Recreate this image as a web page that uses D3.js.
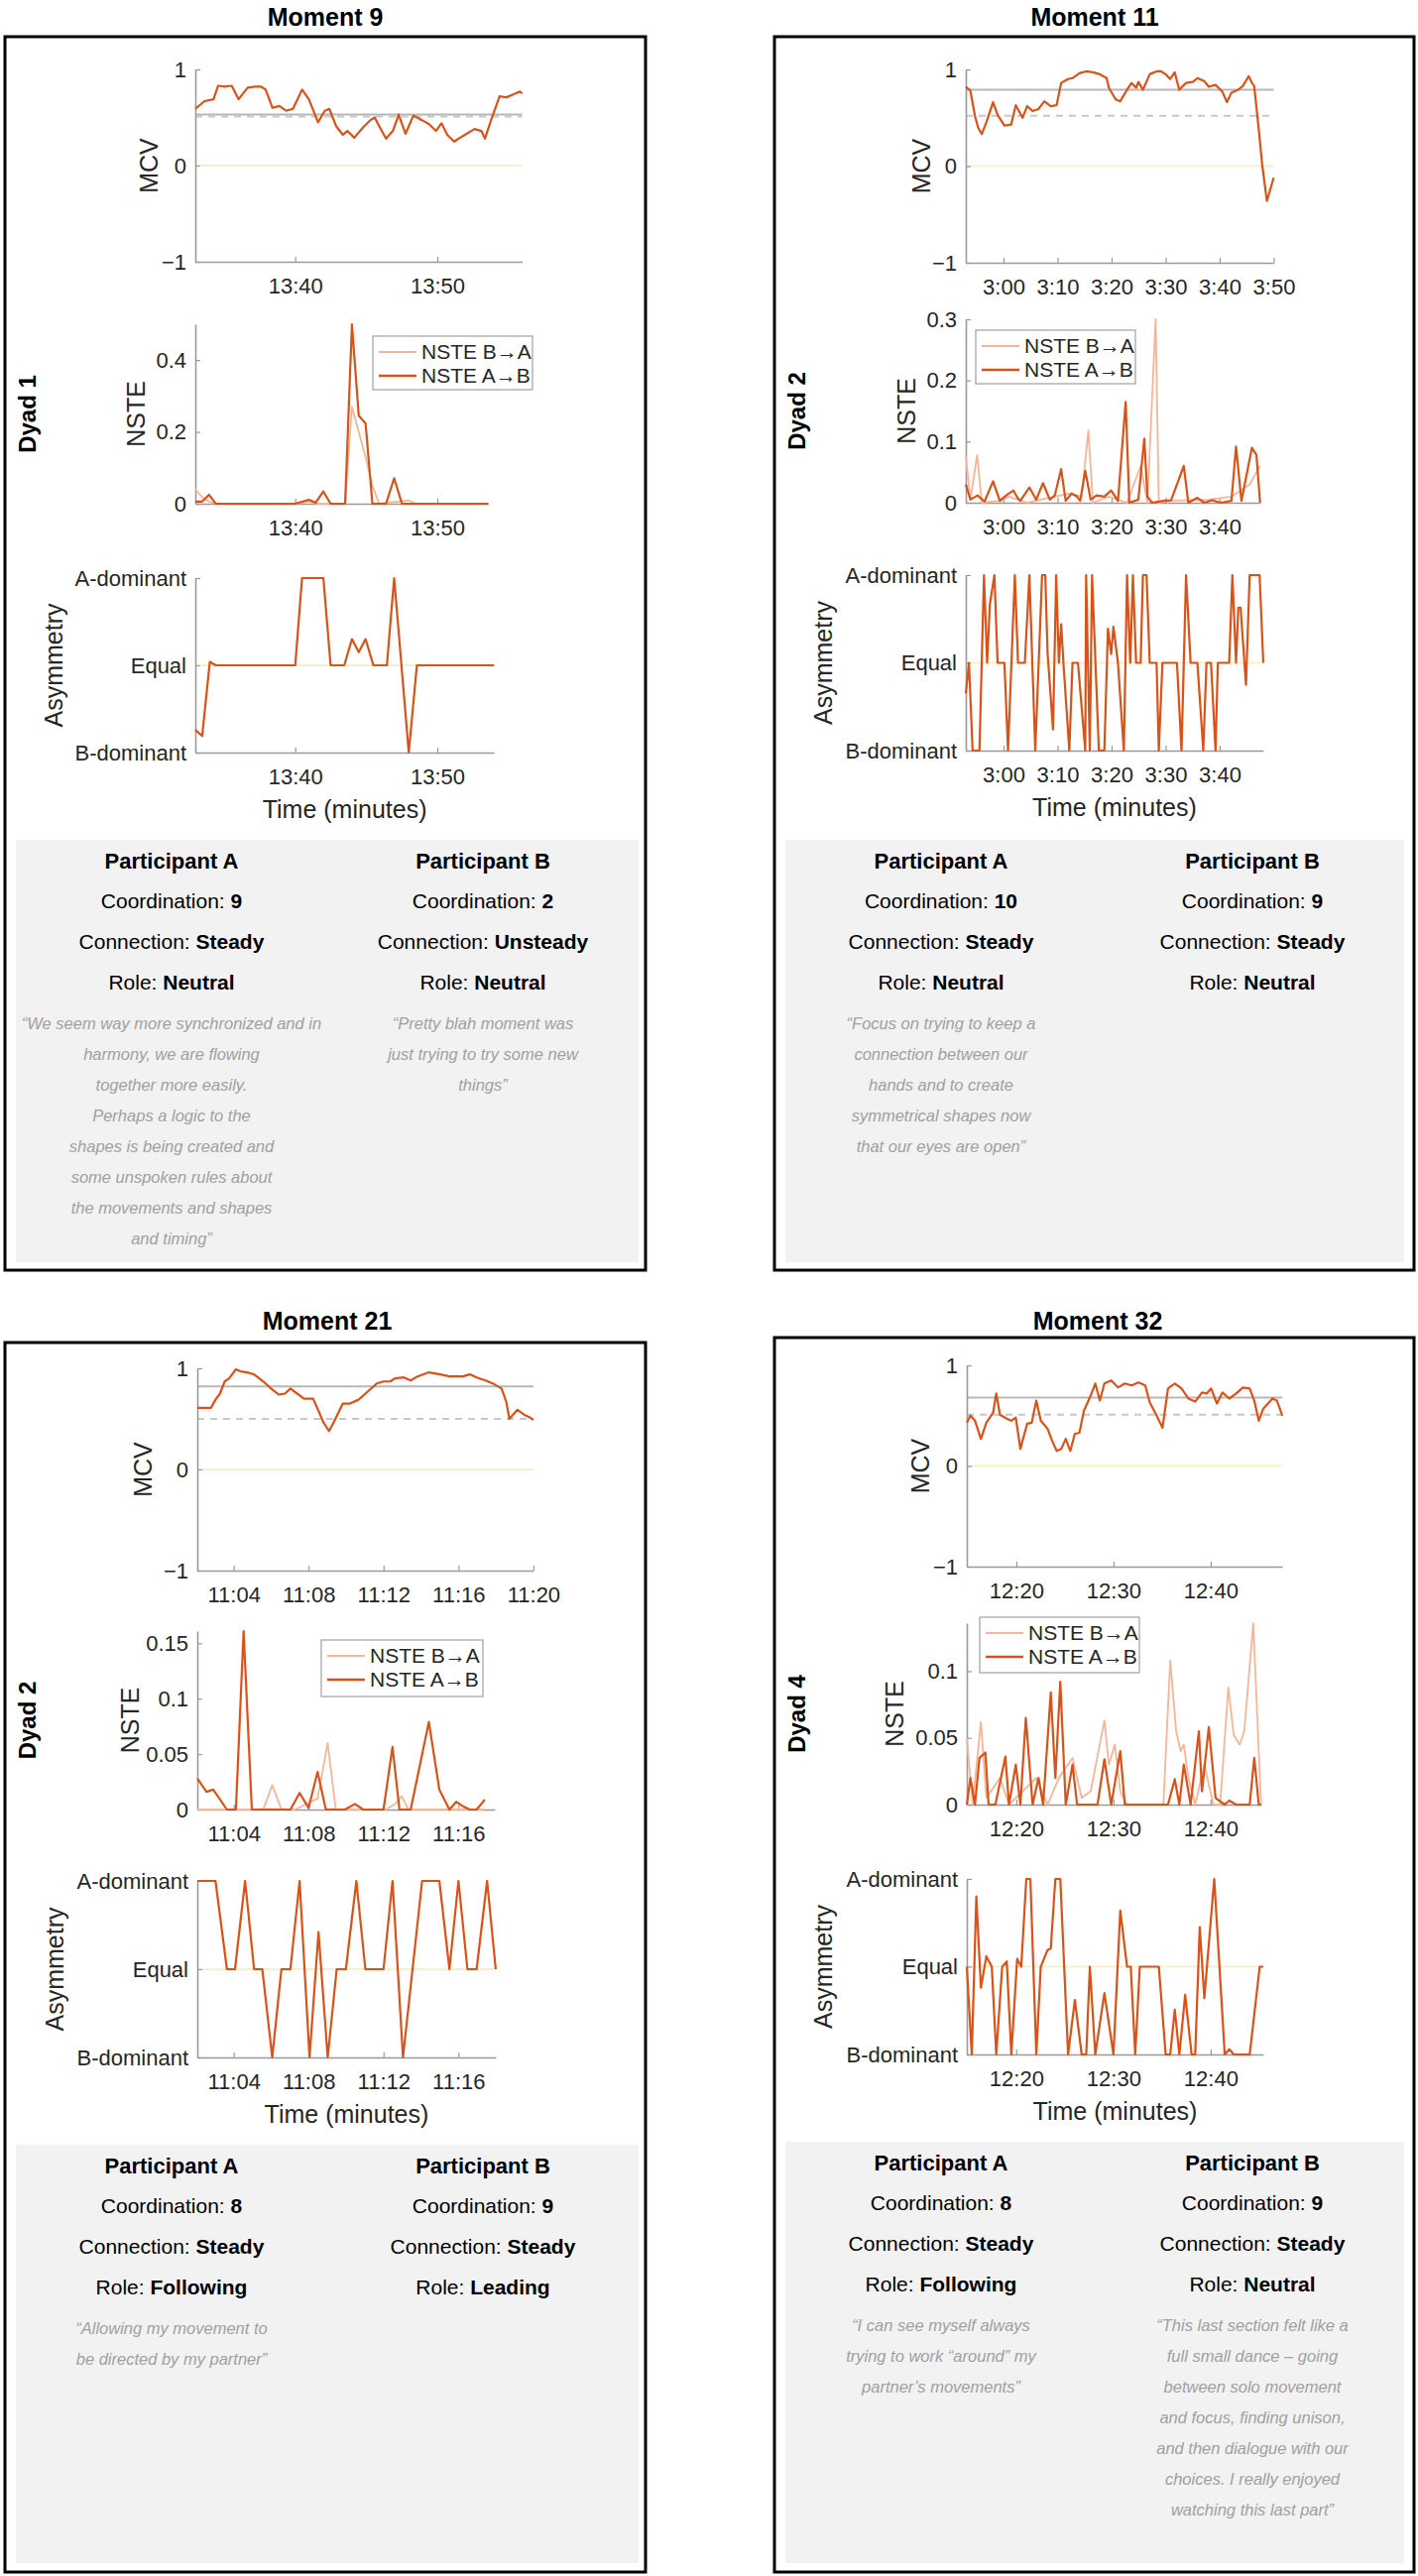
<!DOCTYPE html>
<html>
<head>
<meta charset="utf-8">
<script src="https://cdn.jsdelivr.net/npm/d3@7"></script>
<style>
  body { margin: 0; background: #fff; }
  svg { display: block; }
</style>
</head>
<body>
<script>
const W = 1430, H = 2598;
const FONT = "'Liberation Sans', Arial, sans-serif";
const DARK = "#d95319", LIGHT = "#f4b698", AX = "#9a9a9a", TXT = "#262626";

// ---- data: titles and labels ----
const moments = ["Moment 9", "Moment 11", "Moment 21", "Moment 32"];
const dyads = ["Dyad 1", "Dyad 2", "Dyad 2", "Dyad 4"];
const asymLabels = ["B-dominant", "Equal", "A-dominant"];

// MCV series, [time in minutes, value]
const mcv9 = [[812.97,0.59],[813.61,0.67],[814.25,0.69],[814.57,0.83],[815.05,0.82],[815.53,0.83],[816.01,0.69],[816.65,0.81],[817.12,0.82],[817.6,0.82],[817.92,0.79],[818.4,0.6],[818.88,0.62],[819.36,0.57],[819.84,0.59],[820.48,0.79],[820.96,0.69],[821.6,0.45],[822.08,0.57],[822.4,0.59],[822.88,0.41],[823.35,0.32],[823.67,0.36],[824.15,0.29],[824.79,0.4],[825.27,0.47],[825.59,0.5],[825.91,0.41],[826.39,0.28],[826.87,0.36],[827.28,0.53],[827.76,0.33],[828.31,0.52],[828.95,0.47],[829.42,0.43],[829.9,0.36],[830.29,0.44],[830.7,0.32],[831.18,0.25],[831.82,0.31],[832.62,0.38],[833.1,0.36],[833.35,0.28],[833.8,0.48],[834.38,0.72],[834.86,0.71],[835.34,0.74],[835.81,0.77],[835.97,0.75]];
const mcv11 = [[173.03,0.82],[173.87,0.78],[174.71,0.52],[175.29,0.4],[175.97,0.33],[176.81,0.45],[178.07,0.66],[178.91,0.53],[180.17,0.42],[181.43,0.43],[182.27,0.63],[183.53,0.5],[184.37,0.62],[185.38,0.57],[186.47,0.59],[187.56,0.67],[188.74,0.62],[189.83,0.63],[190.67,0.86],[191.93,0.9],[192.77,0.91],[194.03,0.96],[195.29,0.98],[196.55,0.97],[197.82,0.95],[199.08,0.91],[199.5,0.81],[200.76,0.69],[201.6,0.67],[202.86,0.79],[203.7,0.86],[204.54,0.81],[204.96,0.87],[205.8,0.79],[207.06,0.95],[208.32,0.98],[209.16,0.98],[210,0.95],[210.84,0.9],[211.68,0.97],[212.52,0.79],[213.78,0.86],[215.04,0.87],[215.88,0.91],[217.14,0.88],[217.98,0.82],[219.24,0.84],[220.5,0.77],[221.34,0.66],[222.18,0.76],[223.45,0.79],[224.29,0.83],[225.38,0.93],[225.97,0.86],[226.39,0.83],[227.23,0.38],[227.9,0],[228.74,-0.36],[230,-0.12]];
const mcv21 = [[662.06,0.61],[662.79,0.61],[663.03,0.69],[663.27,0.75],[663.52,0.87],[663.76,0.9],[664.12,0.99],[664.36,0.97],[664.73,0.96],[665.09,0.94],[665.58,0.87],[666.06,0.79],[666.42,0.74],[666.74,0.75],[667.03,0.8],[667.39,0.75],[667.76,0.7],[668.24,0.7],[668.48,0.6],[668.78,0.47],[669.09,0.38],[669.33,0.46],[669.82,0.65],[670.18,0.65],[670.67,0.69],[671.15,0.77],[671.64,0.85],[672,0.87],[672.36,0.87],[672.61,0.9],[673.09,0.91],[673.45,0.88],[673.82,0.92],[674.42,0.96],[675.03,0.94],[675.52,0.92],[676.24,0.92],[676.61,0.94],[676.97,0.91],[677.45,0.88],[677.94,0.84],[678.3,0.8],[678.55,0.67],[678.72,0.5],[679.15,0.59],[679.52,0.54],[679.76,0.52],[680,0.49]];
const mcv32 = [[734.91,0.43],[735.28,0.5],[735.75,0.45],[736.36,0.27],[736.92,0.43],[737.62,0.53],[737.94,0.72],[738.32,0.51],[739.02,0.47],[739.49,0.45],[739.95,0.48],[740.42,0.17],[741.12,0.42],[741.59,0.43],[742.06,0.65],[742.52,0.45],[743.22,0.37],[743.69,0.25],[744.16,0.15],[744.63,0.17],[745.09,0.27],[745.56,0.15],[746.03,0.32],[746.5,0.33],[746.96,0.55],[747.66,0.7],[748.13,0.82],[748.6,0.65],[749.07,0.82],[749.77,0.85],[750.47,0.78],[751.17,0.82],[751.87,0.8],[752.57,0.83],[753.27,0.8],[753.74,0.63],[754.44,0.5],[755.05,0.38],[755.61,0.77],[756.31,0.82],[757.01,0.77],[757.71,0.67],[758.41,0.64],[759.11,0.73],[759.58,0.72],[760.05,0.77],[760.65,0.62],[761.21,0.73],[761.92,0.67],[762.62,0.72],[763.32,0.78],[764.02,0.77],[764.49,0.65],[764.95,0.45],[765.42,0.57],[766.36,0.67],[766.82,0.65],[767.38,0.5]];

// MCV reference levels (solid grey, dashed grey)
const refSolid = [0.53, 0.79, 0.82, 0.68];
const refDashed = [0.51, 0.52, 0.5, 0.51];

// NSTE series
const nsteAB9 = [[812.97,0.006],[813.45,0.006],[813.93,0.025],[814.41,0],[820,0],[820.96,0.011],[821.44,0.003],[821.98,0.034],[822.49,0],[823.51,0],[823.99,0.5],[824.47,0.245],[824.95,0.224],[825.43,0],[826.39,0],[826.96,0.071],[827.51,0],[833.58,0]];
const nsteBA9 = [[812.97,0.04],[813.45,0.018],[813.93,0.006],[814.41,0],[820,0],[820.96,0.006],[821.6,0],[823.51,0],[823.99,0.27],[824.95,0.13],[825.43,0.05],[825.91,0],[827.99,0.009],[828.47,0],[833.58,0]];
const nsteAB11 = [[173.03,0.03],[173.87,0.005],[175.2,0.012],[176.5,0.002],[178.07,0.035],[179.33,0.003],[180.5,0.012],[181.85,0.02],[182.6,0.008],[183.11,0.003],[184.79,0.025],[186.05,0.005],[187.31,0.032],[188.57,0.005],[189.5,0.012],[190.67,0.055],[191.51,0.003],[192.6,0.015],[193.61,0.01],[194.2,0.003],[195.13,0.052],[196.13,0.005],[197.2,0.012],[198.66,0.01],[199.92,0.02],[201.18,0.003],[202.61,0.165],[203.28,0],[204.96,0.005],[206.05,0.105],[206.64,0.01],[207.48,0],[209.58,0.003],[211,0.004],[213.36,0.06],[214.2,0],[215.88,0.008],[217.14,0],[218.6,0.004],[220.2,0],[222.18,0.003],[223.03,0.092],[224.03,0.003],[225.97,0.09],[226.81,0.078],[227.48,0]];
const nsteBA11 = [[173.03,0.076],[173.87,0.005],[175.13,0.078],[175.97,0],[179.33,0.003],[181.01,0.01],[184.37,0],[189.41,0.01],[192.35,0.015],[194.45,0.01],[195.71,0.118],[196.55,0],[199.5,0.01],[202.86,0],[205.38,0.06],[206.64,0],[208.15,0.3],[208.74,0],[210.42,0.003],[217.98,0.005],[222.18,0.01],[223.87,0.02],[225.55,0.03],[226.81,0.05],[227.48,0.06]];
const nsteAB21 = [[662.06,0.028],[662.55,0.016],[662.91,0.018],[663.64,0],[664.12,0],[664.53,0.161],[664.97,0],[667.03,0],[667.52,0.015],[668,0.0015],[668.48,0.034],[668.92,0],[669.94,0],[670.47,0.005],[670.91,0],[672,0],[672.48,0.0565],[672.85,0],[673.45,0],[674.42,0.079],[674.98,0.018],[675.52,0],[675.88,0.007],[676.24,0.003],[676.61,0],[676.97,0],[677.41,0.009]];
const nsteBA21 = [[662.06,0],[665.58,0],[666.06,0.022],[666.55,0],[667.27,0],[668.48,0.01],[669.02,0.06],[669.45,0],[672.12,0],[672.61,0.005],[672.97,0.012],[673.33,0],[677.41,0]];
const nsteAB32 = [[734.91,0],[735.28,0.02],[735.75,0],[736.21,0.035],[736.82,0.039],[737.15,0],[737.85,0],[738.88,0.036],[739.25,0],[739.95,0.03],[740.42,0],[740.98,0.065],[741.68,0],[742.29,0.02],[742.76,0],[743.55,0.084],[744.02,0.02],[744.53,0.092],[745.09,0],[745.79,0.03],[746.26,0],[747.66,0],[748.36,0],[749.07,0.034],[749.77,0],[750.7,0.04],[751.17,0],[755.61,0],[756.31,0.019],[756.78,0],[757.24,0.03],[757.94,0],[758.79,0.055],[759.11,0.01],[759.81,0.058],[760.51,0.005],[761.45,0],[761.92,0.003],[762.62,0],[764.02,0],[764.49,0.035],[764.95,0],[765.19,0]];
const nsteBA32 = [[734.91,0.05],[735.51,0],[736.36,0.062],[736.92,0.005],[738.32,0.02],[739.25,0],[740.65,0.01],[742.06,0.02],[743.22,0],[744.39,0.02],[745.79,0.035],[746.73,0.005],[747.66,0.01],[749.07,0.063],[749.53,0.03],[750.14,0.045],[750.7,0.01],[751.4,0],[755.14,0],[755.84,0.108],[756.45,0.055],[756.92,0.04],[757.24,0.045],[757.71,0.02],[758.41,0],[759.35,0.03],[760.28,0],[760.98,0],[761.82,0.088],[762.38,0.052],[762.99,0.045],[763.46,0.055],[764.39,0.136],[764.95,0.04],[765.19,0]];

// Asymmetry series (-1 = B-dominant, 0 = Equal, 1 = A-dominant)
const asym9 = [[812.97,-0.74],[813.45,-0.81],[813.99,0.04],[814.41,0],[820,0],[820.48,1],[821.98,1],[822.49,0],[823.45,0],[823.99,0.3],[824.47,0.15],[824.95,0.3],[825.5,0],[826.45,0],[826.96,1],[827.99,-1],[828.56,0],[833.99,0]];
const asym11 = [[173.03,-0.35],[173.61,0],[174.29,-1],[175.55,-1],[176.39,1],[176.97,0],[177.48,0.67],[178.32,1],[178.91,0],[180.17,0],[180.84,-1],[182.1,1],[182.69,0],[183.95,0],[184.79,1],[185.88,-1],[187.14,1],[187.73,1],[188.15,0.12],[189.16,-0.76],[189.75,1],[190.25,0],[190.67,0.44],[191.09,0],[192.18,-1],[192.77,0],[193.78,0],[195.13,-1],[195.29,1],[195.97,-1],[196.39,1],[197.65,-1],[198.66,-1],[199.33,0.39],[199.92,0.1],[200.34,0.41],[201.18,0],[202.27,-1],[202.86,1],[203.45,0],[203.95,1],[204.54,0],[205.38,0],[205.8,1],[206.47,1],[207.06,0],[208.32,0],[208.74,-1],[209.41,0],[212.1,0],[212.94,-1],[213.78,1],[214.62,0],[215.88,0],[216.97,-1],[217.56,0],[218.4,0],[219.24,-1],[219.66,0],[221.76,0],[222.35,1],[223.03,0],[223.45,0.63],[223.87,0.63],[224.87,-0.25],[225.55,1],[227.39,1],[228.07,0]];
const asym21 = [[662.06,1],[663.03,1],[663.64,0],[664.07,0],[664.61,1],[665.09,0],[665.53,0],[666.06,-1],[666.55,0],[667.03,0],[667.52,1],[668.05,-1],[668.53,0.42],[669.02,-1],[669.5,0],[669.99,0],[670.55,1],[671.03,0],[672,0],[672.48,1],[673.04,-1],[674.06,1],[674.98,1],[675.52,0],[676,1],[676.48,0],[676.97,0],[677.53,1],[677.99,0]];
const asym32 = [[734.91,0],[735.42,-1],[735.89,0.8],[736.36,-0.24],[736.92,0.12],[737.48,0],[737.94,-1],[738.55,0],[739.02,0.06],[739.49,-1],[740.09,0.09],[740.51,0],[741.03,1],[741.45,1],[742.06,-1],[742.52,0],[743.22,0.19],[743.55,0.21],[744.02,1],[744.53,1],[745.33,-1],[746.03,-0.38],[746.73,-1],[747.2,-1],[747.57,0],[748.13,-1],[749.07,-0.3],[750,-1],[750.7,0.64],[751.4,0],[751.78,0],[752.24,-1],[752.71,0],[754.67,0],[755.37,-1],[755.84,-1],[756.31,-0.49],[756.78,-1],[757.38,-0.32],[758.04,-1],[758.41,-1],[758.88,0.45],[759.35,-0.36],[760.37,1],[761.45,-1],[761.92,-0.94],[762.38,-1],[764.02,-1],[765.05,0],[765.42,0]];

// axis ranges and ticks
const nsteMax = [0.5, 0.3, 0.161, 0.136];
const nsteTicks = [[0, 0.2, 0.4], [0, 0.1, 0.2, 0.3], [0, 0.05, 0.1, 0.15], [0, 0.05, 0.1]];
const mcvTicksX = [[820, 830], [180, 190, 200, 210, 220, 230], [664, 668, 672, 676, 680], [740, 750, 760]];
const lowTicksX = [[820, 830], [180, 190, 200, 210, 220], [664, 668, 672, 676], [740, 750, 760]];
const nsteXEnd = [833.58, 227.5, 677.94, 765.19];
const asymXEnd = [833.99, 228.07, 677.99, 765.42];

// questionnaire text
const coordA = [9, 10, 8, 8], coordB = [2, 9, 9, 9];
const connA = ["Steady", "Steady", "Steady", "Steady"];
const connB = ["Unsteady", "Steady", "Steady", "Steady"];
const roleA = ["Neutral", "Neutral", "Following", "Following"];
const roleB = ["Neutral", "Neutral", "Leading", "Neutral"];
const quoteA = [
  ["\u201cWe seem way more synchronized and in", "harmony, we are flowing", "together more easily.", "Perhaps a logic to the", "shapes is being created and", "some unspoken rules about", "the movements and shapes", "and timing\u201d"],
  ["\u201cFocus on trying to keep a", "connection between our", "hands and to create", "symmetrical shapes now", "that our eyes are open\u201d"],
  ["\u201cAllowing my movement to", "be directed by my partner\u201d"],
  ["\u201cI can see myself always", "trying to work \u201caround\u201d my", "partner\u2019s movements\u201d"]
];
const quoteB = [
  ["\u201cPretty blah moment was", "just trying to try some new", "things\u201d"],
  [],
  [],
  ["\u201cThis last section felt like a", "full small dance \u2013 going", "between solo movement", "and focus, finding unison,", "and then dialogue with our", "choices. I really enjoyed", "watching this last part\u201d"]
];

const mcvData = [mcv9, mcv11, mcv21, mcv32];
const abData = [nsteAB9, nsteAB11, nsteAB21, nsteAB32];
const baData = [nsteBA9, nsteBA11, nsteBA21, nsteBA32];
const asymData = [asym9, asym11, asym21, asym32];

// ---- layout (pixels) ----
const layout = [
  { box: [5, 37, 651, 1281], title: [328, 26], gray: [16, 847, 644, 1273], px: 197, k: 14.33,
    mcv: [70, 264], nste: [327, 508], asym: [583, 759], legend: [376, 339, 537, 393], lab: [47, 60, 143] },
  { box: [781, 37, 1426, 1281], title: [1104, 26], gray: [792, 847, 1416, 1273], px: 974, k: 5.45,
    mcv: [70, 265], nste: [322, 507], asym: [580, 757], legend: [984, 333, 1145, 387], lab: [45, 60, 144] },
  { box: [5, 1354, 651, 2594], title: [330, 1341], gray: [16, 2163, 644, 2585], px: 199, k: 18.89,
    mcv: [1380, 1584], nste: [1645, 1825], asym: [1897, 2075], legend: [324, 1654, 487, 1711], lab: [55, 68, 144] },
  { box: [781, 1349, 1426, 2594], title: [1107, 1341], gray: [792, 2160, 1416, 2585], px: 975, k: 9.8,
    mcv: [1377, 1580], nste: [1637, 1820], asym: [1895, 2072], legend: [988, 1631, 1149, 1687], lab: [47, 73, 145] }
];

const svg = d3.select("body").append("svg")
  .attr("width", W).attr("height", H)
  .style("font-family", FONT);

function fmtTime(t) {
  const h = Math.floor(t / 60 + 1e-6);
  const m = Math.round(t - h * 60);
  return h + ":" + String(m).padStart(2, "0");
}

function styleAxis(sel, size) {
  sel.select(".domain").attr("stroke", AX).attr("stroke-width", 1.6);
  sel.selectAll(".tick line").attr("stroke", AX).attr("stroke-width", 1.2);
  sel.selectAll(".tick text").attr("fill", TXT).attr("font-size", size).attr("font-family", FONT);
}

function drawAxes(g, x, y, xTicks, yTicks, yFmt) {
  const [y0] = y.range();
  g.append("g").attr("transform", `translate(0,${y0})`)
    .call(d3.axisBottom(x).tickValues(xTicks).tickFormat(fmtTime)
      .tickSizeInner(-5).tickSizeOuter(0).tickPadding(16))
    .call(s => styleAxis(s, 22));
  g.append("g").attr("transform", `translate(${x.range()[0]},0)`)
    .call(d3.axisLeft(y).tickValues(yTicks).tickFormat(yFmt)
      .tickSizeInner(-5).tickSizeOuter(0).tickPadding(9))
    .call(s => styleAxis(s, 22));
}

function yLabel(g, text, xc, yc) {
  g.append("text")
    .attr("transform", `translate(${xc},${yc}) rotate(-90)`)
    .attr("text-anchor", "middle").attr("dy", "0.35em")
    .attr("font-size", 25).attr("fill", TXT)
    .text(text);
}

function hline(g, x, yv, y, color, dash) {
  g.append("line")
    .attr("x1", x.range()[0]).attr("x2", x.range()[1])
    .attr("y1", y(yv)).attr("y2", y(yv))
    .attr("stroke", color).attr("stroke-width", 2)
    .attr("stroke-dasharray", dash || null);
}

function series(g, data, x, y, color, w) {
  g.append("path").datum(data)
    .attr("fill", "none").attr("stroke", color).attr("stroke-width", w)
    .attr("stroke-linejoin", "round")
    .attr("d", d3.line().x(d => x(d[0])).y(d => y(d[1])));
}

layout.forEach((L, i) => {
  const g = svg.append("g");
  const t0 = mcvData[i][0][0];
  const mcvEnd = mcvData[i][mcvData[i].length - 1][0];
  const xr = end => [L.px, L.px + (end - t0) * L.k];

  // frame and title
  g.append("rect")
    .attr("x", L.box[0]).attr("y", L.box[1])
    .attr("width", L.box[2] - L.box[0]).attr("height", L.box[3] - L.box[1])
    .attr("fill", "none").attr("stroke", "#000").attr("stroke-width", 3);
  g.append("text").attr("x", L.title[0]).attr("y", L.title[1])
    .attr("text-anchor", "middle").attr("font-size", 25).attr("font-weight", "bold")
    .text(moments[i]);

  // dyad label
  g.append("text")
    .attr("transform", `translate(${L.box[0] + 23},${(L.nste[0] + L.nste[1]) / 2}) rotate(-90)`)
    .attr("text-anchor", "middle").attr("dy", "0.35em")
    .attr("font-size", 24).attr("font-weight", "bold")
    .text(dyads[i]);

  // --- MCV ---
  const xM = d3.scaleLinear().domain([t0, mcvEnd]).range(xr(mcvEnd));
  const yM = d3.scaleLinear().domain([-1, 1]).range([L.mcv[1], L.mcv[0]]);
  hline(g, xM, 0, yM, "#fcefc8");
  hline(g, xM, refDashed[i], yM, "#c8c8c8", "7,6");
  hline(g, xM, refSolid[i], yM, "#b8b8b8");
  drawAxes(g, xM, yM, mcvTicksX[i], [-1, 0, 1], d3.format("d"));
  series(g, mcvData[i], xM, yM, DARK, 2.2);
  yLabel(g, "MCV", L.px - L.lab[0], yM(0));

  // --- NSTE ---
  const xN = d3.scaleLinear().domain([t0, nsteXEnd[i]]).range(xr(nsteXEnd[i]));
  const yN = d3.scaleLinear().domain([0, nsteMax[i]]).range([L.nste[1], L.nste[0]]);
  drawAxes(g, xN, yN, lowTicksX[i], nsteTicks[i], d => d === 0 ? "0" : String(d));
  series(g, baData[i], xN, yN, LIGHT, 1.8);
  series(g, abData[i], xN, yN, DARK, 2.2);
  yLabel(g, "NSTE", L.px - L.lab[1], (L.nste[0] + L.nste[1]) / 2);

  // legend
  const [lx0, ly0, lx1, ly1] = L.legend;
  const lg = g.append("g");
  lg.append("rect").attr("x", lx0).attr("y", ly0)
    .attr("width", lx1 - lx0).attr("height", ly1 - ly0)
    .attr("fill", "#fff").attr("stroke", "#a0a0a0").attr("stroke-width", 1.2);
  [["NSTE B\u2192A", LIGHT, 2], ["NSTE A\u2192B", DARK, 2.6]].forEach((it, j) => {
    const yy = ly0 + 16 + j * 24;
    lg.append("line").attr("x1", lx0 + 6).attr("x2", lx0 + 44)
      .attr("y1", yy).attr("y2", yy).attr("stroke", it[1]).attr("stroke-width", it[2]);
    lg.append("text").attr("x", lx0 + 49).attr("y", yy).attr("dy", "0.35em")
      .attr("font-size", 21).attr("fill", TXT).text(it[0]);
  });

  // --- Asymmetry ---
  const xA = d3.scaleLinear().domain([t0, asymXEnd[i]]).range(xr(asymXEnd[i]));
  const yA = d3.scaleLinear().domain([-1, 1]).range([L.asym[1], L.asym[0]]);
  hline(g, xA, 0, yA, "#fcefc8");
  drawAxes(g, xA, yA, lowTicksX[i], [-1, 0, 1], d => asymLabels[d + 1]);
  series(g, asymData[i], xA, yA, DARK, 2.2);
  yLabel(g, "Asymmetry", L.px - L.lab[2], yA(0));
  g.append("text")
    .attr("x", (xA.range()[0] + xA.range()[1]) / 2).attr("y", L.asym[1] + 57)
    .attr("dy", "0.35em").attr("text-anchor", "middle")
    .attr("font-size", 25).attr("fill", TXT).text("Time (minutes)");

  // --- questionnaire panel ---
  const [gx0, gy0, gx1, gy1] = L.gray;
  g.append("rect").attr("x", gx0).attr("y", gy0)
    .attr("width", gx1 - gx0).attr("height", gy1 - gy0).attr("fill", "#f2f2f2");
  const cols = [
    { cx: L.box[0] + 168, who: "Participant A", c: coordA[i], n: connA[i], r: roleA[i], q: quoteA[i] },
    { cx: L.box[0] + 482, who: "Participant B", c: coordB[i], n: connB[i], r: roleB[i], q: quoteB[i] }
  ];
  cols.forEach(col => {
    const t = g.append("g").attr("text-anchor", "middle").attr("fill", "#000");
    t.append("text").attr("x", col.cx).attr("y", gy0 + 21).attr("dy", "0.35em")
      .attr("font-size", 22).attr("font-weight", "bold").text(col.who);
    [["Coordination: ", col.c], ["Connection: ", col.n], ["Role: ", col.r]].forEach((row, j) => {
      const tx = t.append("text").attr("x", col.cx).attr("y", gy0 + 62 + j * 41)
        .attr("dy", "0.35em").attr("font-size", 21);
      tx.append("tspan").text(row[0]);
      tx.append("tspan").attr("font-weight", "bold").text(row[1]);
    });
    col.q.forEach((line, j) => {
      t.append("text").attr("x", col.cx).attr("y", gy0 + 185 + j * 31)
        .attr("dy", "0.35em").attr("font-size", 16.5).attr("font-style", "italic")
        .attr("fill", "#a0a0a0").text(line);
    });
  });
});
</script>
</body>
</html>
